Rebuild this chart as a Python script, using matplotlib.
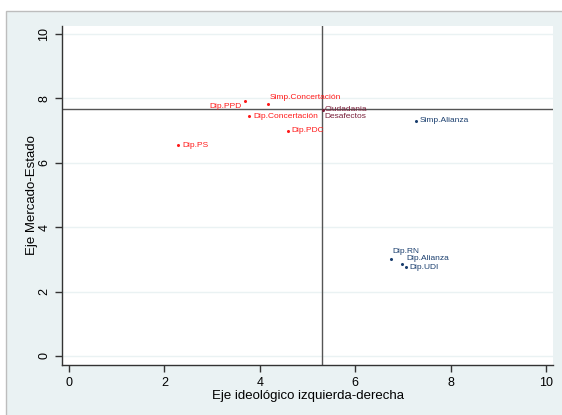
import matplotlib
matplotlib.use('Agg')
import matplotlib.pyplot as plt
from matplotlib.patches import Rectangle

# Data
labels = ['Simp.Concertación', 'Dip.PPD', 'Dip.Concertación', 'Dip.PDC', 'Dip.PS',
          'Ciudadania\nDesafectos', 'Simp.Alianza', 'Dip.RN', 'Dip.Alianza', 'Dip.UDI']
ideologia = [4.17, 3.69, 3.77, 4.59, 2.29, 5.32, 7.27, 6.75, 6.98, 7.07]
mercado = [7.83, 7.92, 7.45, 6.99, 6.55, 7.64, 7.30, 3.01, 2.86, 2.76]
bloque = ['C', 'C', 'C', 'C', 'C', 'X', 'A', 'A', 'A', 'A']
ref_x = 5.30
ref_y = 7.67
ticks = [0, 2, 4, 6, 8, 10]

colores = {'C': '#ff1a1a', 'A': '#1a3e6e', 'X': '#7a1f3a'}
# label offsets in points and alignment
offsets = [(1.5, 4.3, 'left'), (-2.5, -3.6, 'right'), (3, 0, 'left'), (2.5, 0, 'left'),
           (3, 0, 'left'), (1.5, -2, 'left'), (2.5, 0, 'left'), (0.8, 5.5, 'left'),
           (3.5, 3.6, 'left'), (2.2, 0, 'left')]

plt.rcParams['font.family'] = ['Liberation Sans', 'DejaVu Sans']

fig = plt.figure(figsize=(5.62, 4.15), dpi=100)
fig.patch.set_facecolor('white')
fig.patches.append(Rectangle((6 / 562, -0.01), 1.0, 1 - 11 / 415 + 0.01,
                             transform=fig.transFigure, facecolor='#eaf2f3',
                             edgecolor='#bdbdbd', linewidth=1, zorder=-10))

ax = fig.add_axes([62 / 562, 1 - 365 / 415, (553 - 62) / 562, (365 - 26) / 415])
ax.set_facecolor('white')

for t in ticks:
    ax.axhline(t, color='#eaf2f3', linewidth=1, zorder=0)

ax.axvline(ref_x, color='#555555', linewidth=1, zorder=1)
ax.axhline(ref_y, color='#555555', linewidth=1, zorder=1)

for i in range(len(labels)):
    c = colores[bloque[i]]
    ax.plot(ideologia[i], mercado[i], marker='o', markersize=1.2, color=c,
            linestyle='none', zorder=3)
    dx, dy, ha = offsets[i]
    ax.annotate(labels[i], (ideologia[i], mercado[i]), xytext=(dx, dy),
                textcoords='offset points', ha=ha, va='center', fontsize=6,
                color=c, linespacing=0.95, zorder=4)

ax.set_xlim(-0.147, 10.147)
ax.set_ylim(-0.28, 10.25)
ax.set_xticks(ticks)
ax.set_yticks(ticks)
ax.tick_params(axis='both', direction='out', length=5, width=1, labelsize=9,
               color='#333333')
plt.setp(ax.get_yticklabels(), rotation=90, va='center')
for s in ['top', 'right']:
    ax.spines[s].set_visible(False)
for s in ['left', 'bottom']:
    ax.spines[s].set_color('#333333')
    ax.spines[s].set_linewidth(1)

ax.set_xlabel('Eje ideológico izquierda-derecha', fontsize=9.5, labelpad=1)
ax.set_ylabel('Eje Mercado-Estado', fontsize=9.5, labelpad=0)

plt.savefig('out.png', dpi=100, facecolor=fig.get_facecolor())
